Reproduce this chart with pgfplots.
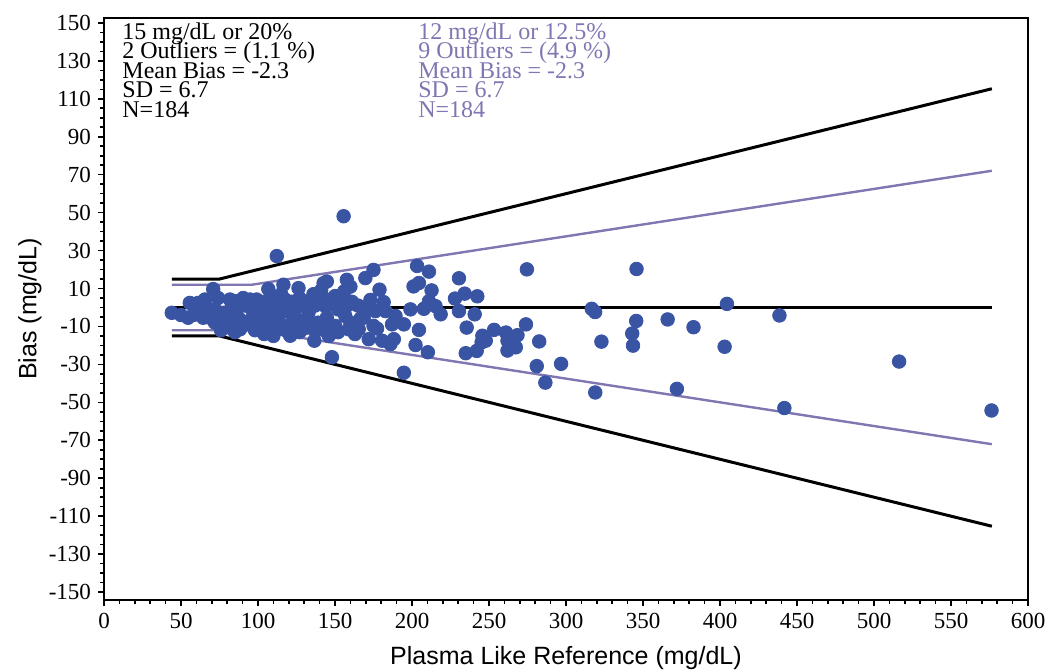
\documentclass[border=0pt]{standalone}
\usepackage{pgfplots}
\pgfplotsset{compat=1.18}
\usepackage{fontspec}
\setmainfont{Liberation Serif}
\newfontfamily\labelfont{Liberation Sans}
\definecolor{ptblue}{RGB}{58,84,164}
\definecolor{limpurple}{RGB}{128,118,178}
\pgfplotstableread{
x y
44 -2.8
54.6 -5.4
55.7 2.4
61.1 2.4
65.5 4.2
70.9 9.7
74.1 5
64.4 -5.4
68.8 -5.4
77.4 -2.8
81.8 4.2
86.1 3.3
90.4 5
94.8 4.2
99.1 4.2
80.6 -7.1
88.3 -6.3
81.8 -10.6
88.3 -11.5
94.8 -7.1
97 -3.6
101.3 -7.1
103.5 -11.5
105.6 -1
155.6 48.1
112.2 27.1
106.7 9.7
116.5 12
126.3 10.2
142.6 12.8
144.7 13.7
141 9
156 8.5
157.7 14.6
169.7 15.5
109 5
117.6 4.2
147 4.2
154.5 2.8
107.8 -2.8
113.3 -4.5
120.9 -2.8
125.2 -6.3
119.8 -9.7
111.1 -10.6
132.8 -2.8
131.7 -10.6
137.2 -12.3
144.7 -5.4
150.2 -9.7
156.7 -4.5
158.9 -11.5
165.4 -11.5
168.6 -5.4
171.9 -16.7
120.9 -14.9
136.6 -17.5
148 -26.2
175 -9.7
109 -8
149 3.3
166.5 -5.9
149 -10.6
245.2 -18.4
203.3 21.9
211 18.9
230.5 15.4
175 19.8
204.5 12.9
201 11.1
212.7 9
178.9 9.4
234.2 7.3
242.4 5.9
227.9 4.7
181.6 2.8
211 3.3
215.3 0.7
207.7 -0.7
199 -1
218.6 -3.6
230.5 -1.9
176.2 -1.9
182.8 -1.9
240.7 -3.6
189.3 -4.5
187 -8.9
194.7 -8.9
177.3 -11.1
204.5 -11.8
235.5 -10.6
253.3 -11.8
245.7 -14.9
247.9 -17.5
180.6 -17.5
188.2 -16.7
186 -19.3
202.3 -19.8
210.3 -23.6
234.9 -24.1
242 -22.9
194.7 -34.4
274.6 20.1
316.7 -0.7
318.9 -2.4
274 -8.9
261 -13.2
268.5 -14.6
262 -17.5
267.4 -21
262 -22.7
282.6 -17.9
323 -18
281 -30.9
296.8 -29.7
286.6 -39.6
319 -44.8
345.8 20.3
345.6 -7.1
343 -13.7
343.5 -20.1
366 -6.3
382.8 -10.4
404.5 1.9
403 -20.7
438.6 -4.2
372 -42.9
441.8 -53
516.3 -28.5
576.3 -54.3
72 -8
76 -12
85 -13
92 -9
98 -12
104 -14
110 -15
114 -8
118 -12
123 -11
127 -13
130 -7
134 -9
139 -8
143 -12
146 -15
152 -13
160 -8
163 -14
83 1
92 1
100 2
104 3
108 1
112 2
115 7
119 1
122 3
127 5
129 1
133 3
137 1
140 4
144 0.5
150 6
152 -1
158 1
161 3
165 1
170 0
173 4
160 11
136 7
124 -1
114 -1
102 -4
96 0
86 -2
72 -1
60 -2
66 1
58 -4
50 -4
}\pts
\begin{document}
\begin{tikzpicture}
\begin{axis}[
  scale only axis,
  width=462bp, height=291bp,
  xmin=0, xmax=600, ymin=-154.2, ymax=152.6,
  xtick={0,50,...,600},
  ytick={-150,-130,...,150},
  minor x tick num=4,
  minor y tick num=3,
  tick pos=left,
  tick align=outside,
  major tick length=3bp,
  minor tick length=2bp,
  every tick/.style={black, line width=0.8bp},
  axis line style={line width=1.2bp},
  /pgf/number format/assume math mode=true,
  ticklabel style={font=\fontsize{11.5bp}{12bp}\selectfont},
  xlabel={Plasma Like Reference (mg/dL)},
  ylabel={Bias (mg/dL)},
  label style={font=\labelfont\fontsize{12.5bp}{14bp}\selectfont},
  xlabel style={at={(axis description cs:0.5,-0.0997)}, anchor=center},
  ylabel style={at={(axis description cs:-0.0801,0.5)}, anchor=center},
  clip=false,
]
\addplot[only marks, mark=*, mark size=3.4bp, color=ptblue, mark options={draw=ptblue, fill=ptblue}] table[x=x, y=y] {\pts};
\addplot[limpurple, line width=1.2bp] coordinates {(44,12) (96,12) (576.5,72.06)};
\addplot[limpurple, line width=1.2bp] coordinates {(44,-12) (96,-12) (576.5,-72.06)};
\addplot[black, line width=1.5bp] coordinates {(44,15) (75,15) (576.5,115.3)};
\addplot[black, line width=1.5bp] coordinates {(44,-15) (75,-15) (576.5,-115.3)};
\addplot[black, line width=1.5bp] coordinates {(44,0) (576.5,0)};
\coordinate (ll) at (rel axis cs:0,0);
\coordinate (ur) at (rel axis cs:1,1);
\begin{scope}[every node/.style={anchor=base west, inner sep=0pt, font=\fontsize{12bp}{12bp}\selectfont}]
\node at (axis description cs:0.0195,0.9631) {15 mg/dL or 20\%};
\node at (axis description cs:0.0195,0.9296) {2 Outliers = (1.1 \%)};
\node at (axis description cs:0.0195,0.8961) {Mean Bias = -2.3};
\node at (axis description cs:0.0195,0.8626) {SD = 6.7};
\node at (axis description cs:0.0195,0.8291) {N=184};
\node[text=limpurple] at (axis description cs:0.3398,0.9631) {12 mg/dL or 12.5\%};
\node[text=limpurple] at (axis description cs:0.3398,0.9296) {9 Outliers = (4.9 \%)};
\node[text=limpurple] at (axis description cs:0.3398,0.8961) {Mean Bias = -2.3};
\node[text=limpurple] at (axis description cs:0.3398,0.8626) {SD = 6.7};
\node[text=limpurple] at (axis description cs:0.3398,0.8291) {N=184};
\end{scope}
\end{axis}
\pgfresetboundingbox
\path[use as bounding box] ([xshift=-52bp,yshift=-35.5bp]ll) rectangle ([xshift=9bp,yshift=9bp]ur);
\end{tikzpicture}
\end{document}
